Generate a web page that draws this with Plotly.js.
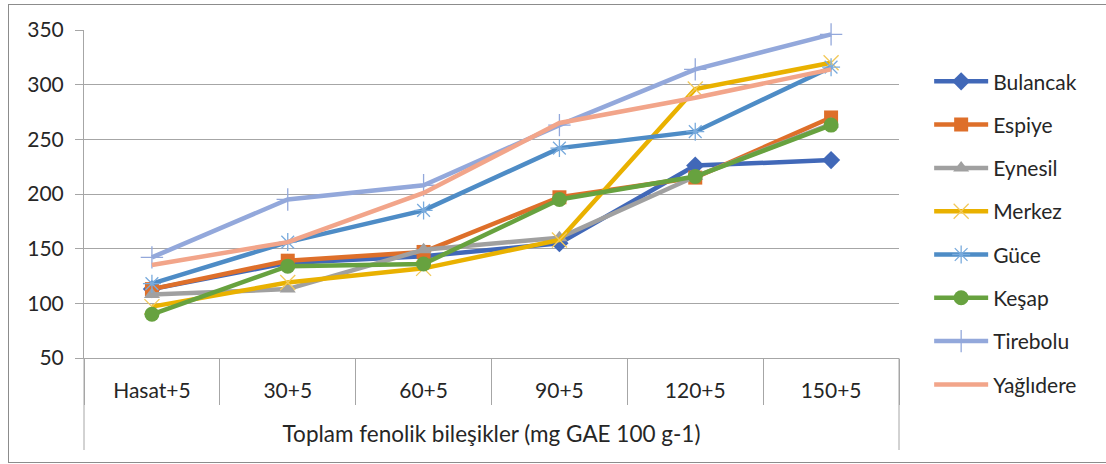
<!DOCTYPE html>
<html>
<head>
<meta charset="utf-8">
<script src="https://cdn.plot.ly/plotly-3.0.1.min.js"></script>
<style>
  html, body { margin: 0; padding: 0; background: #fff; }
  #wrap { position: relative; width: 1106px; height: 464px; overflow: hidden; }
  #chart { position: absolute; left: 0; top: 0; width: 1106px; height: 464px; }
  #frame { position: absolute; left: 8px; top: 4px; width: 1110px; height: 457px; border: 1px solid #8c8c8c; pointer-events: none; }
</style>
</head>
<body>
<div id="wrap"><div id="chart"></div><div id="frame"></div></div>
<script>
const axisTitle = "Toplam fenolik bileşikler (mg GAE 100 g-1)";
const categories = ["Hasat+5", "30+5", "60+5", "90+5", "120+5", "150+5"];
const seriesNames = ["Bulancak", "Espiye", "Eynesil", "Merkez", "Güce", "Keşap", "Tirebolu", "Yağlıdere"];
const bulancak  = [113, 137, 143, 155, 226, 231];
const espiye    = [113, 139, 147, 197, 215, 270];
const eynesil   = [108, 113, 149, 160, 216, 264];
const merkez    = [97, 119, 132, 158, 296, 320];
const guce      = [118, 156, 185, 242, 257, 316];
const kesap     = [90, 134, 136, 195, 216, 263];
const tirebolu  = [142, 195, 208, 263, 314, 346];
const yagl      = [135, 156, 201, 265, 288, 314];
const seriesValues = [bulancak, espiye, eynesil, merkez, guce, kesap, tirebolu, yagl];
const yTicks = [50, 100, 150, 200, 250, 300, 350];

const lineColors = ["#4168B8", "#DE6F2A", "#A0A0A0", "#E9B100", "#4E8CC6", "#67A23F", "#93A8DB", "#F2A58A"];
const markerDefs = [
  {symbol: "diamond", size: 14},
  {symbol: "square", size: 14},
  {symbol: "triangle-up", size: 14},
  {symbol: "x-thin-open", size: 15, thin: "#F2C95A"},
  {symbol: "asterisk-open", size: 15, thin: "#79ABDD"},
  {symbol: "circle", size: 15},
  {symbol: "cross-thin-open", size: 16, thin: "#93A8DB"},
  null
];

const traces = seriesNames.map((name, i) => {
  const m = markerDefs[i];
  const t = {
    type: "scatter",
    x: categories,
    y: seriesValues[i],
    name: name,
    legendgroup: "g" + i,
    mode: m ? "lines+markers" : "lines",
    line: {color: lineColors[i], width: 4.5},
    cliponaxis: false
  };
  if (m) {
    if (m.thin) {
      t.marker = {symbol: m.symbol, size: m.size, color: m.thin, line: {color: m.thin, width: 1.3}};
    } else {
      t.marker = {symbol: m.symbol, size: m.size, color: lineColors[i], line: {width: 0}};
    }
  }
  return t;
});
// invisible helper trace carrying the category boundary tick lines
traces.push({
  type: "scatter", x: categories, y: categories.map(() => null),
  xaxis: "x2", yaxis: "y", showlegend: false, hoverinfo: "skip", mode: "lines"
});

const fam = "Lato, 'Open Sans', sans-serif";
const txt = "#262626";
const gray = "#A6A6A6";
const extend = 92 / 328;

const layout = {
  width: 1106, height: 464,
  margin: {l: 84, r: 207, t: 30, b: 106, pad: 0},
  paper_bgcolor: "rgba(0,0,0,0)",
  plot_bgcolor: "rgba(0,0,0,0)",
  font: {family: fam, color: txt, size: 21},
  showlegend: true,
  legend: {
    x: 1.037, xanchor: "left", xref: "paper",
    y: 0.905, yanchor: "top", yref: "paper",
    traceorder: "grouped",
    tracegroupgap: 13,
    itemwidth: 54,
    maxheight: 440,
    font: {family: fam, size: 21, color: txt},
    bgcolor: "rgba(0,0,0,0)",
    borderwidth: 0
  },
  xaxis: {
    type: "category",
    range: [-0.5, 5.5],
    automargin: false,
    showgrid: false,
    zeroline: false,
    showline: false,
    ticks: "",
    tickfont: {family: fam, size: 21, color: txt},
    ticklabelstandoff: 18,
    title: {text: axisTitle, font: {family: fam, size: 22.5, color: txt}, standoff: 25}
  },
  xaxis2: {
    type: "category",
    overlaying: "x",
    anchor: "y",
    side: "bottom",
    range: [-0.5, 5.5],
    automargin: false,
    showgrid: false,
    zeroline: false,
    showline: true,
    linecolor: gray,
    linewidth: 1,
    showticklabels: false,
    ticks: "outside",
    tickson: "boundaries",
    ticklen: 46,
    tickcolor: gray,
    tickwidth: 1
  },
  yaxis: {
    range: [50, 350],
    automargin: false,
    tickvals: yTicks,
    ticktext: yTicks.map(String),
    showgrid: true,
    gridcolor: gray,
    gridwidth: 1,
    zeroline: false,
    showline: true,
    linecolor: gray,
    linewidth: 1,
    ticks: "outside",
    ticklen: 8,
    tickcolor: gray,
    ticklabelstandoff: 7,
    tickfont: {family: fam, size: 21, color: txt}
  },
  shapes: [
    {type: "line", xref: "paper", yref: "paper", x0: 0, x1: 0, y0: -extend, y1: 0, line: {color: gray, width: 1}},
    {type: "line", xref: "paper", yref: "paper", x0: 1, x1: 1, y0: -extend, y1: 0, line: {color: gray, width: 1}}
  ]
};

Plotly.newPlot("chart", traces, layout, {displayModeBar: false, staticPlot: true});
</script>
</body>
</html>
